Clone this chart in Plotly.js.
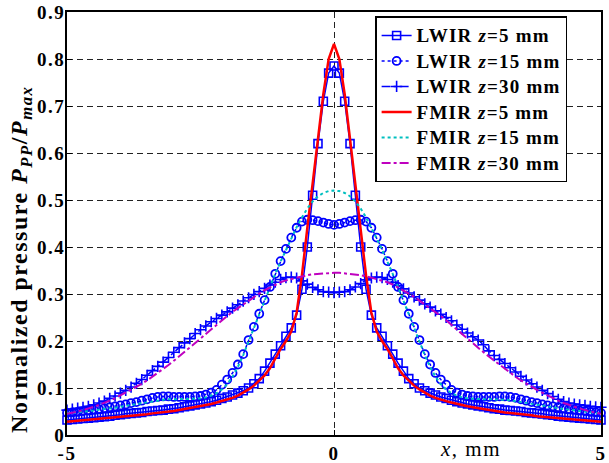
<!DOCTYPE html>
<html>
<head>
<meta charset="utf-8">
<script src="https://cdn.plot.ly/plotly-3.0.1.min.js"></script>
<style>
html,body{margin:0;padding:0;background:#fff;}
#chart{width:609px;height:463px;}
.legendtext{font-size:19px !important;letter-spacing:1.2px;}
.ytick text,.xtick text{letter-spacing:1.5px;}
.annotation-text{letter-spacing:1.5px;}
</style>
</head>
<body>
<div id="chart"></div>
<script>
// x positions, mm
const xPos = [-5,-4.9,-4.8,-4.7,-4.6,-4.5,-4.4,-4.3,-4.2,-4.1,-4,-3.9,-3.8,-3.7,-3.6,-3.5,-3.4,-3.3,-3.2,-3.1,-3,-2.9,-2.8,-2.7,-2.6,-2.5,-2.4,-2.3,-2.2,-2.1,-2,-1.9,-1.8,-1.7,-1.6,-1.5,-1.4,-1.3,-1.2,-1.1,-1,-0.9,-0.8,-0.7,-0.6,-0.5,-0.4,-0.3,-0.2,-0.1,
  0,
  0.1,0.2,0.3,0.4,0.5,0.6,0.7,0.8,0.9,1,1.1,1.2,1.3,1.4,1.5,1.6,1.7,1.8,1.9,2,2.1,2.2,2.3,2.4,2.5,2.6,2.7,2.8,2.9,3,3.1,3.2,3.3,3.4,3.5,3.6,3.7,3.8,3.9,4,4.1,4.2,4.3,4.4,4.5,4.6,4.7,4.8,4.9,5];

const lwir5 = [0.032,0.033,0.034,0.035,0.036,0.037,0.038,0.039,0.04,0.042,0.043,0.045,0.046,0.047,0.048,0.05,0.051,0.052,0.053,0.055,0.056,0.058,0.06,0.062,0.064,0.066,0.068,0.071,0.074,0.078,0.081,0.085,0.089,0.094,0.1,0.109,0.12,0.136,0.153,0.172,0.19,0.21,0.228,0.255,0.31,0.40,0.51,0.62,0.71,0.77,
  0.785,
  0.77,0.71,0.62,0.51,0.40,0.31,0.255,0.228,0.21,0.19,0.172,0.153,0.136,0.12,0.109,0.1,0.094,0.089,0.085,0.081,0.078,0.074,0.071,0.068,0.066,0.064,0.062,0.06,0.058,0.056,0.055,0.053,0.052,0.051,0.05,0.048,0.047,0.046,0.045,0.043,0.042,0.04,0.039,0.038,0.037,0.036,0.035,0.034,0.033,0.032];

const lwir15 = [0.047,0.048,0.049,0.051,0.052,0.054,0.055,0.057,0.059,0.061,0.063,0.065,0.068,0.07,0.073,0.076,0.079,0.081,0.082,0.082,0.081,0.081,0.081,0.081,0.082,0.083,0.086,0.09,0.096,0.107,0.118,0.132,0.15,0.172,0.202,0.23,0.258,0.287,0.315,0.343,0.37,0.396,0.42,0.441,0.454,0.458,0.457,0.455,0.452,0.449,
  0.447,
  0.449,0.452,0.455,0.457,0.458,0.454,0.441,0.42,0.396,0.37,0.343,0.315,0.287,0.258,0.23,0.202,0.172,0.15,0.132,0.118,0.107,0.096,0.09,0.086,0.083,0.082,0.081,0.081,0.081,0.081,0.082,0.082,0.081,0.079,0.076,0.073,0.07,0.068,0.065,0.063,0.061,0.059,0.057,0.055,0.054,0.052,0.051,0.049,0.048,0.047];

const lwir30 = [0.053,0.055,0.057,0.059,0.061,0.064,0.068,0.072,0.078,0.083,0.089,0.095,0.102,0.11,0.118,0.127,0.137,0.146,0.155,0.165,0.176,0.186,0.196,0.205,0.216,0.224,0.232,0.241,0.248,0.255,0.262,0.27,0.277,0.285,0.292,0.299,0.305,0.312,0.319,0.325,0.331,0.335,0.336,0.334,0.328,0.321,0.314,0.309,0.305,0.304,
  0.303,
  0.304,0.305,0.309,0.315,0.322,0.33,0.334,0.336,0.335,0.331,0.325,0.318,0.311,0.302,0.294,0.287,0.279,0.272,0.264,0.257,0.25,0.243,0.234,0.225,0.217,0.209,0.202,0.192,0.179,0.169,0.161,0.152,0.143,0.134,0.125,0.117,0.109,0.102,0.095,0.088,0.082,0.076,0.071,0.068,0.066,0.064,0.063,0.061,0.06,0.059];

const fmir5 = [0.028,0.029,0.03,0.031,0.032,0.033,0.034,0.035,0.036,0.037,0.038,0.039,0.04,0.042,0.043,0.044,0.046,0.047,0.048,0.05,0.051,0.053,0.055,0.057,0.059,0.061,0.063,0.066,0.069,0.072,0.075,0.079,0.084,0.09,0.097,0.105,0.115,0.127,0.142,0.163,0.183,0.2,0.22,0.26,0.34,0.44,0.535,0.63,0.725,0.80,
  0.832,
  0.80,0.725,0.63,0.535,0.44,0.34,0.26,0.22,0.2,0.183,0.163,0.142,0.127,0.115,0.105,0.097,0.09,0.084,0.079,0.075,0.072,0.069,0.066,0.063,0.061,0.059,0.057,0.055,0.053,0.051,0.05,0.048,0.047,0.046,0.044,0.043,0.042,0.04,0.039,0.038,0.037,0.036,0.035,0.034,0.033,0.032,0.031,0.03,0.029,0.028];

const fmir15 = [0.046,0.047,0.048,0.05,0.051,0.052,0.054,0.055,0.057,0.058,0.06,0.062,0.064,0.066,0.068,0.07,0.072,0.074,0.075,0.076,0.076,0.076,0.076,0.076,0.077,0.078,0.08,0.084,0.089,0.097,0.108,0.124,0.145,0.17,0.199,0.228,0.258,0.287,0.315,0.343,0.369,0.394,0.418,0.442,0.463,0.482,0.497,0.508,0.515,0.519,
  0.52,
  0.519,0.515,0.508,0.497,0.482,0.463,0.442,0.418,0.394,0.369,0.343,0.315,0.287,0.258,0.228,0.199,0.17,0.145,0.124,0.108,0.097,0.089,0.084,0.08,0.078,0.077,0.076,0.076,0.076,0.076,0.076,0.075,0.074,0.072,0.07,0.068,0.066,0.064,0.062,0.06,0.058,0.057,0.055,0.054,0.052,0.051,0.05,0.048,0.047,0.046];

const fmir30 = [0.045,0.047,0.05,0.053,0.056,0.06,0.064,0.068,0.073,0.078,0.084,0.09,0.096,0.102,0.109,0.116,0.124,0.132,0.14,0.149,0.158,0.167,0.176,0.186,0.195,0.205,0.215,0.225,0.234,0.244,0.253,0.262,0.27,0.278,0.286,0.294,0.301,0.308,0.314,0.32,0.325,0.329,0.332,0.335,0.338,0.34,0.342,0.343,0.344,0.345,
  0.345,
  0.345,0.344,0.343,0.342,0.34,0.338,0.335,0.332,0.329,0.325,0.32,0.314,0.308,0.301,0.294,0.286,0.278,0.27,0.262,0.253,0.244,0.234,0.225,0.215,0.205,0.195,0.186,0.176,0.167,0.158,0.149,0.14,0.132,0.124,0.116,0.109,0.102,0.096,0.09,0.084,0.078,0.073,0.068,0.064,0.06,0.056,0.053,0.05,0.047,0.045];

const seriesNames = ['<b>LWIR <i>z</i>=5 mm</b>','<b>LWIR <i>z</i>=15 mm</b>','<b>LWIR <i>z</i>=30 mm</b>',
                     '<b>FMIR <i>z</i>=5 mm</b>','<b>FMIR <i>z</i>=15 mm</b>','<b>FMIR <i>z</i>=30 mm</b>'];
const xTickVals = [-5, 0, 5];
const xTickText = ['-5', '0', '5'];

const BLUE = '#0000ff';
const serif = 'Liberation Serif, Times New Roman, serif';

const traces = [
  {x: xPos, y: lwir5, name: seriesNames[0], mode: 'lines+markers', cliponaxis: false,
   line: {color: BLUE, width: 1.5, dash: 'solid'},
   marker: {symbol: 'square-open', size: 8, color: BLUE, line: {color: BLUE, width: 1.6}}},
  {x: xPos, y: lwir15, name: seriesNames[1], mode: 'lines+markers', cliponaxis: false,
   line: {color: BLUE, width: 1.5, dash: 'dot'},
   marker: {symbol: 'circle-open', size: 8, color: BLUE, line: {color: BLUE, width: 1.8}}},
  {x: xPos, y: lwir30, name: seriesNames[2], mode: 'lines+markers', cliponaxis: false,
   line: {color: BLUE, width: 1.5, dash: 'dashdot'},
   marker: {symbol: 'cross-thin-open', size: 8, color: BLUE, line: {color: BLUE, width: 1.6}}},
  {x: xPos, y: fmir5, name: seriesNames[3], mode: 'lines', cliponaxis: false,
   line: {color: '#ff0000', width: 2.5}},
  {x: xPos, y: fmir15, name: seriesNames[4], mode: 'lines', cliponaxis: false,
   line: {color: '#00bfbf', width: 2, dash: 'dot'}},
  {x: xPos, y: fmir30, name: seriesNames[5], mode: 'lines', cliponaxis: false,
   line: {color: '#bf00bf', width: 2, dash: 'dashdot'}}
];

const axisCommon = {
  showline: true, mirror: true, linecolor: 'black', linewidth: 2,
  ticks: 'inside', ticklen: 5, tickcolor: 'black', tickwidth: 1,
  showgrid: true, gridcolor: '#222', gridwidth: 1, griddash: '6px,4px',
  zeroline: false,
  tickfont: {family: serif, size: 19, color: 'black', weight: 'bold'}
};

const layout = {
  width: 609, height: 463,
  margin: {l: 67, r: 8, t: 12, b: 28},
  paper_bgcolor: 'white', plot_bgcolor: 'white',
  xaxis: Object.assign({}, axisCommon, {range: [-5, 5], tickvals: xTickVals, ticktext: xTickText}),
  yaxis: Object.assign({}, axisCommon, {range: [0, 0.9], dtick: 0.1, tick0: 0, ticklabelstandoff: -4}),
  showlegend: true,
  legend: {x: 0.577, y: 0.99, xanchor: 'left', yanchor: 'top',
           bgcolor: 'white', bordercolor: 'black', borderwidth: 1.5,
           font: {family: serif, size: 17.3, color: 'black'}, tracegroupgap: 0},
  annotations: [
    {xref: 'paper', yref: 'paper', x: -0.086, y: 0.414, xanchor: 'center', yanchor: 'middle',
     textangle: -90, showarrow: false,
     text: '<b>Normalized pressure <i>P</i><sub><i>PP</i></sub>/<i>P</i><sub><i>max</i></sub></b>',
     font: {family: serif, size: 24, color: 'black'}},
    {xref: 'paper', yref: 'paper', x: 0.755, y: -0.033, xanchor: 'center', yanchor: 'middle',
     showarrow: false, text: '<i>x</i>, mm',
     font: {family: serif, size: 21, color: 'black'}}
  ]
};

Plotly.newPlot('chart', traces, layout, {displayModeBar: false, staticPlot: true});
</script>
</body>
</html>
